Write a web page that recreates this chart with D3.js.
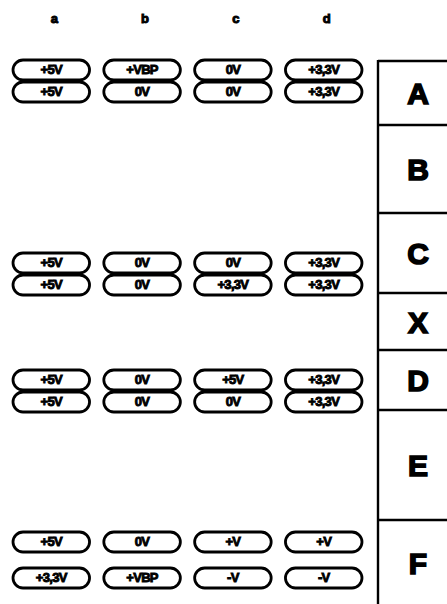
<!DOCTYPE html>
<html><head><meta charset="utf-8">
<script src="https://cdn.jsdelivr.net/npm/d3@7"></script>
<style>html,body{margin:0;padding:0;background:#fff;}svg{display:block;}</style>
</head><body>
<svg id="chart" width="447" height="604"></svg>
<script>
// ---- data ----
const columns = ["a", "b", "c", "d"];
const rowValues = [
  ["+5V", "+VBP", "0V", "+3,3V"],
  ["+5V", "0V", "0V", "+3,3V"],
  ["+5V", "0V", "0V", "+3,3V"],
  ["+5V", "0V", "+3,3V", "+3,3V"],
  ["+5V", "0V", "+5V", "+3,3V"],
  ["+5V", "0V", "0V", "+3,3V"],
  ["+5V", "0V", "+V", "+V"],
  ["+3,3V", "+VBP", "-V", "-V"]
];
// vertical position of each row, in the figure's own units (0 = top of the state box)
const rowPositions = [9, 31, 202, 224, 319, 341, 481, 517];
const sections = ["A", "B", "C", "X", "D", "E", "F"];
const sectionBounds = [0, 64, 152, 232, 289, 349, 459, 545];

// ---- layout ----
const svg = d3.select("#chart");
const font = "'Liberation Sans', Arial, sans-serif";
const x = d3.scaleBand().domain(columns).range([13, 362]).paddingInner(0.157).paddingOuter(0);
const y = d3.scaleLinear().domain([0, 545]).range([61, 606]);
const pillH = 20;

// column headers
svg.selectAll("text.hdr").data(columns).join("text")
  .attr("class", "hdr")
  .attr("x", d => x(d) + x.bandwidth() / 2 + 3)
  .attr("y", 23)
  .attr("text-anchor", "middle")
  .attr("font-family", font).attr("font-weight", "bold").attr("font-size", 13)
  .attr("stroke", "#000").attr("stroke-width", 1)
  .text(d => d);

// pills
const cells = [];
rowValues.forEach((row, i) => row.forEach((v, j) => cells.push({ row: i, col: columns[j], v })));
const g = svg.selectAll("g.cell").data(cells).join("g").attr("class", "cell")
  .attr("transform", d => `translate(${x(d.col)},${y(rowPositions[d.row])})`);
g.append("rect")
  .attr("x", 0).attr("y", -pillH / 2)
  .attr("width", x.bandwidth()).attr("height", pillH)
  .attr("rx", pillH / 2).attr("ry", pillH / 2)
  .attr("fill", "#fff").attr("stroke", "#000").attr("stroke-width", 2.8);
g.append("text")
  .attr("x", x.bandwidth() / 2).attr("y", 3.8)
  .attr("text-anchor", "middle")
  .attr("font-family", font).attr("font-weight", "bold").attr("font-size", 13)
  .attr("letter-spacing", -0.7)
  .attr("stroke", "#000").attr("stroke-width", 0.9)
  .text(d => d.v);

// state box
const boxX = 378, boxR = 449;
svg.append("line").attr("x1", boxX).attr("x2", boxX)
  .attr("y1", y(sectionBounds[0]) - 1).attr("y2", y(sectionBounds[sectionBounds.length - 1]))
  .attr("stroke", "#000").attr("stroke-width", 2.4);
svg.selectAll("line.div").data(sectionBounds.slice(0, -1)).join("line").attr("class", "div")
  .attr("x1", boxX).attr("x2", boxR)
  .attr("y1", d => y(d)).attr("y2", d => y(d))
  .attr("stroke", "#000").attr("stroke-width", 2.4);
svg.selectAll("text.sec").data(sections).join("text").attr("class", "sec")
  .attr("x", 418)
  .attr("y", (d, i) => (y(sectionBounds[i]) + y(sectionBounds[i + 1])) / 2 + 11)
  .attr("text-anchor", "middle")
  .attr("font-family", font).attr("font-weight", "bold").attr("font-size", 30)
  .attr("stroke", "#000").attr("stroke-width", 1.6)
  .text(d => d);
</script>
</body></html>
